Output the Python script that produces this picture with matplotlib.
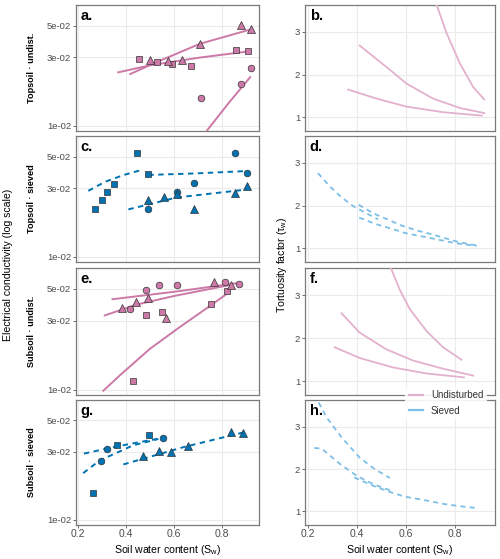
import matplotlib
matplotlib.use('Agg')
import matplotlib.pyplot as plt
from matplotlib.lines import Line2D

plt.rcParams['font.family'] = ['Liberation Sans', 'DejaVu Sans']
plt.rcParams['mathtext.default'] = 'regular'

# ---------------- data ----------------
# Panel a: Topsoil, undisturbed (EC, log scale)
a_tri_x = [0.50, 0.576, 0.632, 0.708, 0.878, 0.92]
a_tri_y = [0.0286, 0.0281, 0.0286, 0.0373, 0.0508, 0.047]
a_sq_x = [0.454, 0.528, 0.59, 0.671, 0.858, 0.91]
a_sq_y = [0.0290, 0.0278, 0.0271, 0.0260, 0.0336, 0.0330]
a_ci_x = [0.711, 0.879, 0.921]
a_ci_y = [0.0156, 0.0197, 0.0251]
a_fit_tri_x = [0.414, 0.528, 0.708, 0.92]
a_fit_tri_y = [0.0228, 0.0278, 0.0373, 0.047]
a_fit_sq_x = [0.364, 0.50, 0.708, 0.91]
a_fit_sq_y = [0.0235, 0.0264, 0.0299, 0.0330]
a_fit_ci_x = [0.736, 0.826, 0.92]
a_fit_ci_y = [0.0092, 0.0143, 0.0221]

# Panel b: tortuosity, topsoil undisturbed
b_ci_x = [0.725, 0.766, 0.820, 0.875, 0.92]
b_ci_y = [3.65, 2.98, 2.27, 1.71, 1.42]
b_tri_x = [0.412, 0.521, 0.603, 0.711, 0.820, 0.92]
b_tri_y = [2.68, 2.18, 1.79, 1.44, 1.22, 1.10]
b_sq_x = [0.365, 0.48, 0.603, 0.752, 0.91]
b_sq_y = [1.65, 1.44, 1.25, 1.12, 1.04]

# Panel c: Topsoil, sieved
c_sq_x = [0.271, 0.299, 0.320, 0.350, 0.447, 0.493]
c_sq_y = [0.0214, 0.0248, 0.0283, 0.0321, 0.0530, 0.0380]
c_ci_x = [0.493, 0.611, 0.685, 0.854, 0.903]
c_ci_y = [0.0214, 0.0283, 0.0325, 0.0530, 0.0385]
c_tri_x = [0.493, 0.560, 0.611, 0.685, 0.854, 0.903]
c_tri_y = [0.0250, 0.0262, 0.0276, 0.0214, 0.0279, 0.0310]
c_fit_sq_x = [0.243, 0.3125, 0.389, 0.47]
c_fit_sq_y = [0.0288, 0.0333, 0.0371, 0.0405]
c_fit_ci_x = [0.493, 0.686, 0.903]
c_fit_ci_y = [0.0372, 0.0381, 0.0396]
c_fit_tri_x = [0.41, 0.611, 0.90]
c_fit_tri_y = [0.0214, 0.0259, 0.0294]

# Panel d: tortuosity, topsoil sieved
d_A_x = [0.242, 0.290, 0.335, 0.385, 0.436, 0.487]
d_A_y = [2.76, 2.45, 2.21, 1.99, 1.83, 1.68]
d_B_x = [0.408, 0.471, 0.528, 0.585, 0.644, 0.705, 0.759, 0.820, 0.895]
d_B_y = [2.02, 1.81, 1.67, 1.53, 1.42, 1.33, 1.24, 1.14, 1.06]
d_C_x = [0.41, 0.476, 0.536, 0.596, 0.657, 0.718, 0.777, 0.827, 0.889]
d_C_y = [1.72, 1.57, 1.47, 1.36, 1.29, 1.22, 1.15, 1.10, 1.06]

# Panel e: Subsoil, undisturbed
e_ci_x = [0.417, 0.483, 0.5375, 0.614, 0.8125, 0.872]
e_ci_y = [0.0362, 0.0487, 0.0528, 0.0528, 0.0552, 0.0543]
e_tri_x = [0.382, 0.442, 0.493, 0.567, 0.768, 0.836]
e_tri_y = [0.0366, 0.0404, 0.0433, 0.0312, 0.0552, 0.0528]
e_sq_x = [0.43, 0.482, 0.549, 0.753, 0.822]
e_sq_y = [0.01146, 0.0329, 0.0344, 0.0393, 0.048]
e_fit_ci_x = [0.34, 0.61, 0.87]
e_fit_ci_y = [0.0422, 0.0478, 0.0548]
e_fit_tri_x = [0.308, 0.444, 0.60, 0.845]
e_fit_tri_y = [0.0325, 0.0388, 0.0445, 0.0535]
e_fit_sq_x = [0.303, 0.375, 0.50, 0.625, 0.75, 0.819]
e_fit_sq_y = [0.00975, 0.0126, 0.0192, 0.0272, 0.0380, 0.0459]

# Panel f: tortuosity, subsoil undisturbed
f_sq_x = [0.539, 0.576, 0.616, 0.684, 0.752, 0.827]
f_sq_y = [3.63, 3.12, 2.68, 2.17, 1.79, 1.50]
f_mid_x = [0.3375, 0.412, 0.521, 0.63, 0.752, 0.875]
f_mid_y = [2.58, 2.13, 1.74, 1.48, 1.29, 1.13]
f_low_x = [0.31, 0.412, 0.548, 0.684, 0.837]
f_low_y = [1.79, 1.54, 1.32, 1.18, 1.09]

# Panel g: Subsoil, sieved
g_sq_x = [0.264, 0.364, 0.496]
g_sq_y = [0.0155, 0.0334, 0.0397]
g_ci_x = [0.296, 0.322, 0.553]
g_ci_y = [0.0258, 0.0316, 0.0376]
g_tri_x = [0.469, 0.5375, 0.5875, 0.66, 0.836, 0.889]
g_tri_y = [0.0281, 0.0303, 0.0299, 0.0328, 0.0414, 0.041]
g_fit_1_x = [0.225, 0.347, 0.458, 0.556]
g_fit_1_y = [0.0292, 0.0324, 0.0352, 0.0377]
g_fit_2_x = [0.222, 0.2917, 0.354, 0.43, 0.535]
g_fit_2_y = [0.0213, 0.0262, 0.0292, 0.0334, 0.0370]
g_fit_tri_x = [0.389, 0.639, 0.896]
g_fit_tri_y = [0.0245, 0.0324, 0.0414]

# Panel h: tortuosity, subsoil sieved
h_up_x = [0.245, 0.277, 0.338, 0.412, 0.473, 0.535]
h_up_y = [3.57, 3.22, 2.75, 2.27, 2.00, 1.79]
h_low_x = [0.227, 0.257, 0.332, 0.40, 0.468, 0.55]
h_low_y = [2.50, 2.48, 2.12, 1.84, 1.64, 1.47]
h_tri_x = [0.39, 0.47, 0.53, 0.595, 0.683, 0.762, 0.826, 0.888]
h_tri_y = [1.80, 1.60, 1.47, 1.35, 1.26, 1.17, 1.12, 1.08]

row_labels = ['Topsoil · undist.', 'Topsoil · sieved', 'Subsoil · undist.', 'Subsoil · sieved']
panel_letters = [['a.', 'b.'], ['c.', 'd.'], ['e.', 'f.'], ['g.', 'h.']]
ec_ticks = [0.01, 0.03, 0.05]
ec_ticklabels = ['1e-02', '3e-02', '5e-02']
tau_ticks = [1, 2, 3]
x_ticks = [0.2, 0.4, 0.6, 0.8]
legend_labels = ['Undisturbed', 'Sieved']

# ---------------- style ----------------
PINK = '#CC79A7'
BLUE = '#0072B2'
PINK_L = '#e3b1cd'
BLUE_L = '#7dbfe6'
EDGE = '#333333'
W, H = 500, 559

fig = plt.figure(figsize=(W / 100, H / 100), dpi=100)


def rect(x0, x1, y0, y1):
    return [x0 / W, 1 - y1 / H, (x1 - x0) / W, (y1 - y0) / H]


rows = [(5, 131), (136, 262), (268, 395), (400, 525)]
LX = (76, 259)
RX = (305, 495)


def style(ax, bottom):
    for s in ax.spines.values():
        s.set_color('#7a7a7a')
        s.set_linewidth(0.9)
    ax.grid(True, color='#ebebeb', linewidth=0.8, zorder=0)
    ax.set_axisbelow(True)
    ax.set_xticks(x_ticks)
    ax.tick_params(axis='both', labelsize=6.8, labelcolor='#4d4d4d', color='#555555',
                   length=2.2, width=0.6, pad=1.2)
    if bottom:
        ax.set_xticklabels([f'{v:.1f}' for v in x_ticks])
        ax.tick_params(axis='x', labelsize=7.5, pad=0.6)
    else:
        ax.tick_params(axis='x', bottom=False, labelbottom=False)


solid = dict(linewidth=1.4, solid_capstyle='butt')
dashed = dict(linewidth=1.4, linestyle=(0, (2.8, 2.3)))
rsolid = dict(linewidth=1.3, color=PINK_L)
rdashed = dict(linewidth=1.3, color=BLUE_L, linestyle=(0, (2.8, 2.3)))

left_axes = []
right_axes = []
for i, (y0, y1) in enumerate(rows):
    axl = fig.add_axes(rect(LX[0], LX[1], y0, y1))
    axr = fig.add_axes(rect(RX[0], RX[1], y0, y1))
    axl.set_yscale('log')
    axl.set_xlim(0.192, 0.954)
    axl.set_ylim(0.0092, 0.0695)
    axr.set_xlim(0.189, 0.964)
    axr.set_ylim(0.68, 3.63)
    style(axl, i == 3)
    style(axr, i == 3)
    axl.set_yticks(ec_ticks)
    axl.set_yticklabels(ec_ticklabels)
    axl.yaxis.set_minor_locator(matplotlib.ticker.NullLocator())
    axr.set_yticks(tau_ticks)
    axr.set_yticklabels([str(t) for t in tau_ticks])
    axl.text(0.025, 0.965, panel_letters[i][0], transform=axl.transAxes, fontsize=10.5,
             fontweight='bold', va='top', ha='left', zorder=6)
    axr.text(0.025, 0.965, panel_letters[i][1], transform=axr.transAxes, fontsize=10.5,
             fontweight='bold', va='top', ha='left', zorder=6)
    fig.text(31 / W, 1 - (y0 + y1) / 2 / H, row_labels[i], rotation=90, ha='center',
             va='center', fontsize=6.6, fontweight='bold')
    left_axes.append(axl)
    right_axes.append(axr)


def pts(ax, x, y, marker, color, ms):
    ax.plot(x, y, linestyle='none', marker=marker, markersize=ms, markerfacecolor=color,
            markeredgecolor=EDGE, markeredgewidth=0.5, zorder=4)


def groups(ax, sq, ci, tri, color):
    pts(ax, sq[0], sq[1], 's', color, 4.4)
    pts(ax, ci[0], ci[1], 'o', color, 4.8)
    pts(ax, tri[0], tri[1], '^', color, 5.2)


# a
ax = left_axes[0]
for fx, fy in [(a_fit_tri_x, a_fit_tri_y), (a_fit_sq_x, a_fit_sq_y), (a_fit_ci_x, a_fit_ci_y)]:
    ax.plot(fx, fy, color=PINK, zorder=3, **solid)
groups(ax, (a_sq_x, a_sq_y), (a_ci_x, a_ci_y), (a_tri_x, a_tri_y), PINK)

# c
ax = left_axes[1]
for fx, fy in [(c_fit_sq_x, c_fit_sq_y), (c_fit_ci_x, c_fit_ci_y), (c_fit_tri_x, c_fit_tri_y)]:
    ax.plot(fx, fy, color=BLUE, zorder=3, **dashed)
groups(ax, (c_sq_x, c_sq_y), (c_ci_x, c_ci_y), (c_tri_x, c_tri_y), BLUE)

# e
ax = left_axes[2]
for fx, fy in [(e_fit_ci_x, e_fit_ci_y), (e_fit_tri_x, e_fit_tri_y), (e_fit_sq_x, e_fit_sq_y)]:
    ax.plot(fx, fy, color=PINK, zorder=3, **solid)
groups(ax, (e_sq_x, e_sq_y), (e_ci_x, e_ci_y), (e_tri_x, e_tri_y), PINK)

# g
ax = left_axes[3]
for fx, fy in [(g_fit_1_x, g_fit_1_y), (g_fit_2_x, g_fit_2_y), (g_fit_tri_x, g_fit_tri_y)]:
    ax.plot(fx, fy, color=BLUE, zorder=3, **dashed)
groups(ax, (g_sq_x, g_sq_y), (g_ci_x, g_ci_y), (g_tri_x, g_tri_y), BLUE)

# b
ax = right_axes[0]
for fx, fy in [(b_ci_x, b_ci_y), (b_tri_x, b_tri_y), (b_sq_x, b_sq_y)]:
    ax.plot(fx, fy, zorder=3, **rsolid)
# d
ax = right_axes[1]
for fx, fy in [(d_A_x, d_A_y), (d_B_x, d_B_y), (d_C_x, d_C_y)]:
    ax.plot(fx, fy, zorder=3, **rdashed)
# f
ax = right_axes[2]
for fx, fy in [(f_sq_x, f_sq_y), (f_mid_x, f_mid_y), (f_low_x, f_low_y)]:
    ax.plot(fx, fy, zorder=3, **rsolid)
# h
ax = right_axes[3]
for fx, fy in [(h_up_x, h_up_y), (h_low_x, h_low_y), (h_tri_x, h_tri_y)]:
    ax.plot(fx, fy, zorder=3, **rdashed)

# axis titles
fig.text(8 / W, 1 - 265 / H, 'Electrical conductivity (log scale)', rotation=90,
         ha='center', va='center', fontsize=7.6)
fig.text(282 / W, 1 - 265 / H, 'Tortuosity factor (τ$_{w}$)', rotation=90,
         ha='center', va='center', fontsize=7.6)
fig.text((LX[0] + LX[1]) / 2 / W, 1 - 550 / H, 'Soil water content (S$_{w}$)',
         ha='center', va='center', fontsize=7.6)
fig.text((RX[0] + RX[1]) / 2 / W, 1 - 550 / H, 'Soil water content (S$_{w}$)',
         ha='center', va='center', fontsize=7.6)

handles = [Line2D([], [], color=PINK_L, linewidth=1.6),
           Line2D([], [], color=BLUE_L, linewidth=1.6)]
leg = fig.legend(handles, legend_labels, loc='center', bbox_to_anchor=(446 / W, 1 - 403 / H),
                 frameon=True, facecolor='white', edgecolor='none', framealpha=0.9,
                 fontsize=7.0, handlelength=1.5, borderpad=0.35, labelspacing=0.55,
                 handletextpad=0.8, borderaxespad=0)
for t in leg.get_texts():
    t.set_color('#333333')

fig.savefig('out.png', dpi=100)
